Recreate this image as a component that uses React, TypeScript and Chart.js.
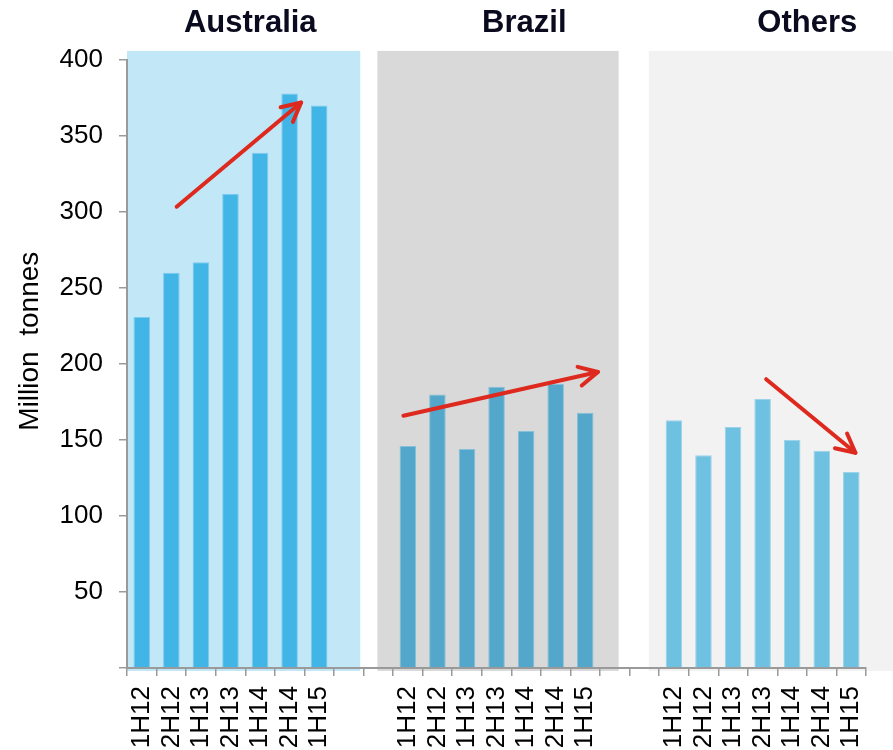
import { useEffect, useRef } from 'react';
import { Chart, registerables } from 'chart.js';

Chart.register(...registerables);

// Half-year shipments, million tonnes
const periods = ['1H12', '2H12', '1H13', '2H13', '1H14', '2H14', '1H15'];
const australia = [231, 260, 267, 312, 339, 378, 370];
const brazil = [146, 180, 144, 185, 156, 187, 168];
const others = [163, 140, 158.5, 177, 150, 143, 129];

const regionNames = ['Australia', 'Brazil', 'Others'];
const barColors = ['#41B5E6', '#52A7CB', '#6EC1E1'];
const barEdgeColors = ['#7CCBEE', '#86C0DA', '#9BD4EA'];
const panelColors = ['#C2E7F6', '#D9D9D9', '#F2F2F2'];

const yMin = 0;
const yMax = 400;
const yStep = 50;

// Empty slots between the regional groups
const gap = ['', ''];

// Region panels, in category-index units, and their top in million tonnes
const panelSpans = [
  [-0.5, 7.39],
  [7.97, 16.13],
  [17.15, 25.4],
];
const panelTop = 406;

// Region headings: centre (category index) and baseline (million tonnes)
const headingCentres = [3.67, 12.94, 22.51];
const headingBaseline = 418.4;

// Trend arrows: [category index, million tonnes] from tail to head
const trendArrows = [
  [[1.18, 303.5], [5.39, 372]],
  [[8.85, 166], [15.43, 194.7]],
  [[21.12, 190], [24.14, 141.6]],
];

const yTitle = 'Million  tonnes';
const yTitleCentre = 215;

const labels = [...periods, ...gap, ...periods, ...gap, ...periods];
const values: (number | null)[] = [
  ...australia, null, null,
  ...brazil, null, null,
  ...others,
];
const groupOf = (i: number) => (i < 9 ? 0 : i < 18 ? 1 : 2);
const fills = labels.map((_, i) => barColors[groupOf(i)]);
const edges = labels.map((_, i) => barEdgeColors[groupOf(i)]);

const FONT = "'Liberation Sans', Arial, sans-serif";

const panelsPlugin = {
  id: 'regionPanels',
  beforeDraw(chart: any) {
    const { ctx, scales } = chart;
    const x = scales.x;
    const y = scales.y;
    ctx.save();
    panelSpans.forEach(([a, b], i) => {
      const left = x.getPixelForValue(a);
      const right = Math.min(x.getPixelForValue(b), chart.width);
      const top = y.getPixelForValue(panelTop);
      const bottom = y.getPixelForValue(yMin) + 3;
      ctx.fillStyle = panelColors[i];
      ctx.fillRect(left, top, right - left, bottom - top);
    });
    ctx.restore();
  },
};

const decorPlugin = {
  id: 'decorations',
  afterDatasetsDraw(chart: any) {
    const { ctx, scales } = chart;
    const x = scales.x;
    const y = scales.y;
    ctx.save();

    // Region headings
    ctx.fillStyle = '#0B0B1F';
    ctx.font = `bold 31px ${FONT}`;
    ctx.textAlign = 'center';
    ctx.textBaseline = 'alphabetic';
    regionNames.forEach((name, i) => {
      ctx.fillText(name, x.getPixelForValue(headingCentres[i]), y.getPixelForValue(headingBaseline));
    });

    // Vertical axis title
    ctx.save();
    ctx.translate(30, y.getPixelForValue(yTitleCentre));
    ctx.rotate(-Math.PI / 2);
    ctx.fillStyle = '#000';
    ctx.font = `28px ${FONT}`;
    ctx.textAlign = 'center';
    ctx.textBaseline = 'middle';
    ctx.fillText(yTitle, 0, 0);
    ctx.restore();

    // Trend arrows
    ctx.strokeStyle = '#DE2A1E';
    ctx.lineWidth = 4;
    ctx.lineCap = 'round';
    ctx.lineJoin = 'round';
    const head = 21;
    const spread = (27 * Math.PI) / 180;
    trendArrows.forEach(([from, to]) => {
      const x0 = x.getPixelForValue(from[0]);
      const y0 = y.getPixelForValue(from[1]);
      const x1 = x.getPixelForValue(to[0]);
      const y1 = y.getPixelForValue(to[1]);
      const ang = Math.atan2(y0 - y1, x0 - x1);
      ctx.beginPath();
      ctx.moveTo(x0, y0);
      ctx.lineTo(x1, y1);
      ctx.stroke();
      ctx.beginPath();
      ctx.moveTo(x1 + head * Math.cos(ang + spread), y1 + head * Math.sin(ang + spread));
      ctx.lineTo(x1, y1);
      ctx.lineTo(x1 + head * Math.cos(ang - spread), y1 + head * Math.sin(ang - spread));
      ctx.stroke();
    });

    ctx.restore();
  },
};

export default function App() {
  const canvasRef = useRef<HTMLCanvasElement | null>(null);

  useEffect(() => {
    if (!canvasRef.current) return;
    const chart = new Chart(canvasRef.current, {
      type: 'bar',
      data: {
        labels,
        datasets: [
          {
            data: values,
            backgroundColor: fills,
            borderColor: edges,
            borderWidth: 1,
            borderSkipped: 'bottom',
            barPercentage: 0.56,
            categoryPercentage: 1,
          },
        ],
      },
      options: {
        animation: false,
        responsive: true,
        maintainAspectRatio: false,
        layout: { padding: { top: 60, right: 25, bottom: 0, left: 0 } },
        plugins: {
          legend: { display: false },
          tooltip: { enabled: false },
          title: { display: false },
        },
        scales: {
          x: {
            offset: true,
            grid: {
              display: true,
              drawOnChartArea: false,
              drawTicks: true,
              tickLength: 8,
              color: '#9A9A9A',
              lineWidth: 1.5,
              offset: true,
            },
            border: { display: true, color: '#9A9A9A', width: 2 },
            ticks: {
              autoSkip: false,
              minRotation: 90,
              maxRotation: 90,
              padding: 10,
              color: '#000',
              font: { family: FONT, size: 26 },
            },
            afterFit(scale: any) {
              scale.height = 82;
            },
          },
          y: {
            min: yMin,
            max: yMax,
            grid: {
              display: true,
              drawOnChartArea: false,
              drawTicks: true,
              tickLength: 8,
              color: '#9A9A9A',
              lineWidth: 1.5,
            },
            border: { display: true, color: '#9A9A9A', width: 2 },
            ticks: {
              stepSize: yStep,
              padding: 16,
              color: '#000',
              font: { family: FONT, size: 26 },
              callback: (v: any) => (Number(v) === 0 ? '' : String(v)),
            },
            afterFit(scale: any) {
              scale.width = 127;
            },
          },
        },
      },
      plugins: [panelsPlugin, decorPlugin],
    });
    return () => chart.destroy();
  }, []);

  return (
    <div style={{ position: 'fixed', left: 0, top: 0, width: 893, height: 750, background: '#fff' }}>
      <canvas ref={canvasRef} />
    </div>
  );
}
